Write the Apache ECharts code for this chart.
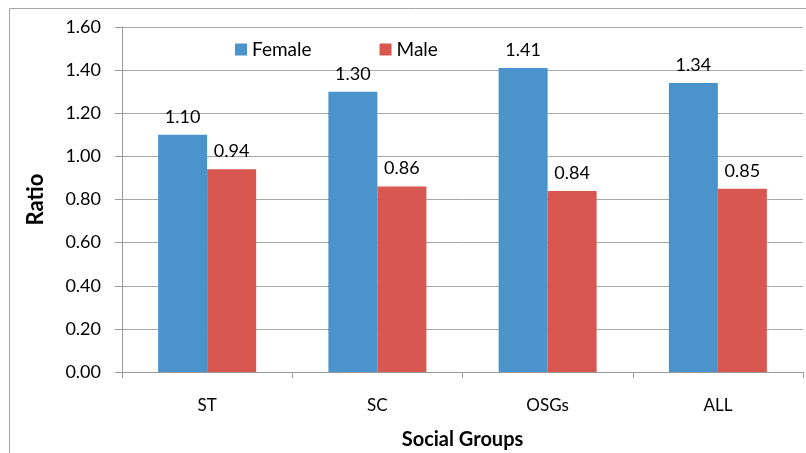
<!DOCTYPE html>
<html>
<head>
<meta charset="utf-8">
<script src="https://cdn.jsdelivr.net/npm/echarts@6/dist/echarts.min.js"></script>
<style>
html,body{margin:0;padding:0;background:#fff;}
#chart{width:806px;height:453px;}
</style>
</head>
<body>
<div id="chart"></div>
<script>
// Female/male ratio by social group
const categories = ['ST', 'SC', 'OSGs', 'ALL'];
const female = [1.10, 1.30, 1.41, 1.34];
const male = [0.94, 0.86, 0.84, 0.85];
const yTicks = [0, 0.2, 0.4, 0.6, 0.8, 1.0, 1.2, 1.4, 1.6];

const FONT = 'Lato, "Open Sans", sans-serif';
const chart = echarts.init(document.getElementById('chart'));

const labelStyle = {
  show: true,
  position: 'top',
  distance: 9,
  fontFamily: FONT,
  fontSize: 18,
  color: '#000',
  formatter: p => p.value.toFixed(2)
};

chart.setOption({
  animation: false,
  backgroundColor: '#fff',
  graphic: [{
    type: 'rect',
    shape: { x: 9.5, y: 8.5, width: 820, height: 470 },
    style: { fill: 'none', stroke: '#a6a6a6', lineWidth: 1 },
    silent: true
  }],
  legend: {
    data: ['Female', 'Male'],
    top: 35,
    left: 230,
    itemWidth: 12,
    itemHeight: 12,
    itemGap: 68,
    icon: 'rect',
    textStyle: { fontFamily: FONT, fontSize: 19, color: '#000' }
  },
  grid: { left: 122, right: 3, top: 27, bottom: 81, outerBoundsMode: 'none', containLabel: false },
  xAxis: {
    type: 'category',
    data: categories,
    name: 'Social Groups',
    nameLocation: 'middle',
    nameGap: 58,
    nameTextStyle: { fontFamily: FONT, fontSize: 20, fontWeight: 'bold', color: '#000' },
    axisLine: { lineStyle: { color: '#9a9a9a' } },
    axisTick: { show: true, length: 6, lineStyle: { color: '#9a9a9a' } },
    axisLabel: { fontFamily: FONT, fontSize: 17, color: '#000', margin: 25 }
  },
  yAxis: {
    type: 'value',
    min: yTicks[0],
    max: yTicks[yTicks.length - 1],
    interval: 0.2,
    name: 'Ratio',
    nameLocation: 'middle',
    nameGap: 75,
    nameRotate: 90,
    nameTextStyle: { fontFamily: FONT, fontSize: 22, fontWeight: 'bold', color: '#000' },
    axisLine: { show: true, lineStyle: { color: '#9a9a9a' } },
    axisTick: { show: true, length: 7, lineStyle: { color: '#9a9a9a' } },
    splitLine: { lineStyle: { color: '#a6a6a6' } },
    axisLabel: {
      fontFamily: FONT, fontSize: 18, color: '#000', margin: 21,
      formatter: v => v.toFixed(2)
    }
  },
  series: [
    {
      name: 'Female', type: 'bar', data: female,
      barWidth: 49, barGap: '0%',
      itemStyle: { color: '#4a94cb' },
      label: labelStyle
    },
    {
      name: 'Male', type: 'bar', data: male,
      barWidth: 49, barGap: '0%',
      itemStyle: { color: '#d85751' },
      label: labelStyle
    }
  ]
});
</script>
</body>
</html>
